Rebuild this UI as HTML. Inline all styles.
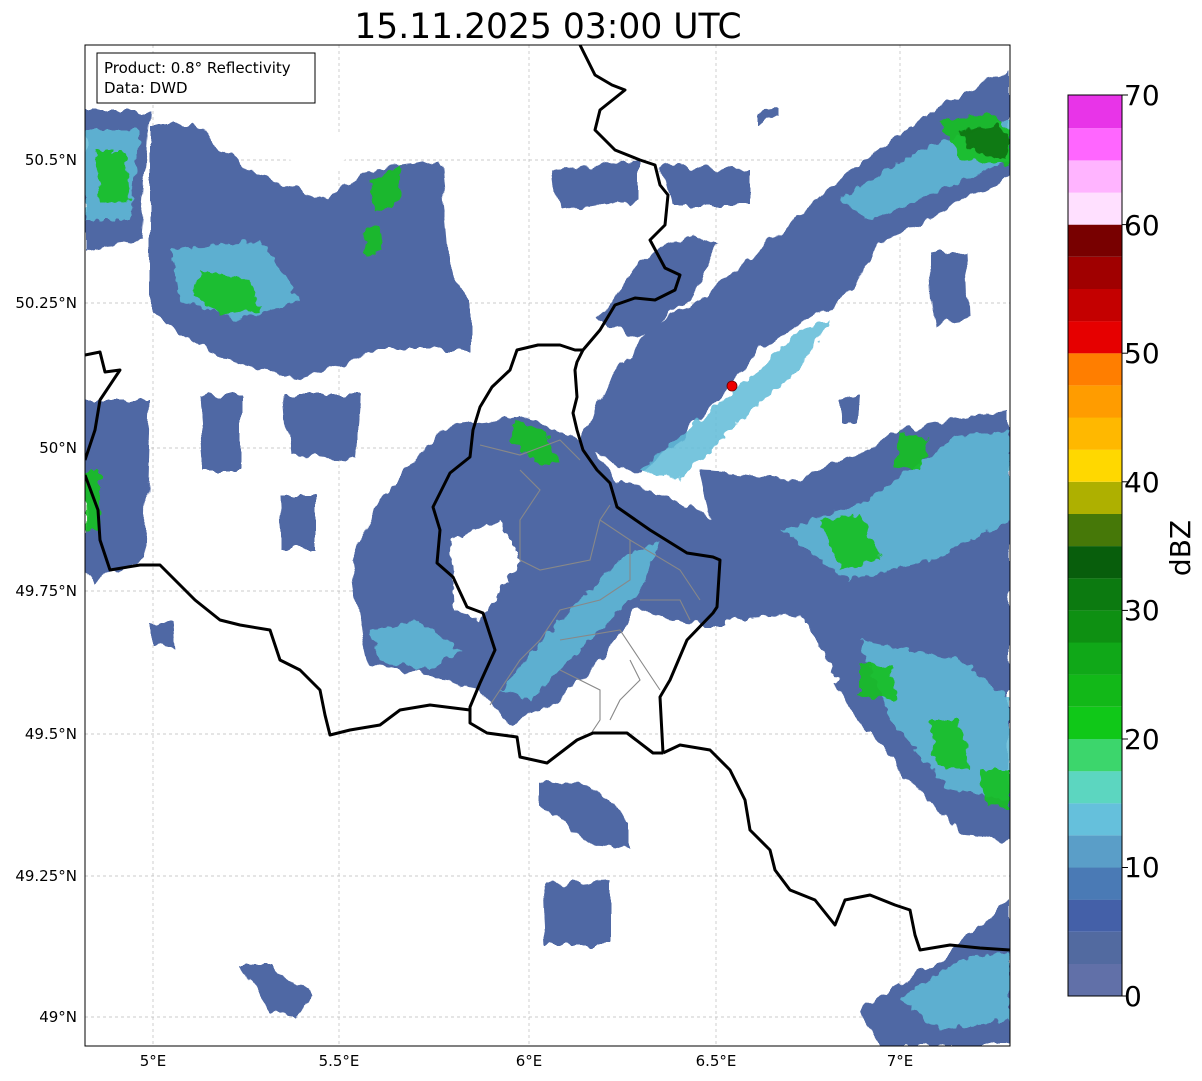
<!DOCTYPE html>
<html><head><meta charset="utf-8"><style>
html,body{margin:0;padding:0;background:#fff}
svg{display:block;font-family:"DejaVu Sans","Liberation Sans",sans-serif}
</style></head><body>
<svg width="1202" height="1081" viewBox="0 0 1202 1081" xmlns="http://www.w3.org/2000/svg">
<defs>
<filter id="r" x="-10%" y="-10%" width="120%" height="120%">
<feTurbulence type="fractalNoise" baseFrequency="0.08 0.03" numOctaves="2" seed="3"/>
<feDisplacementMap in="SourceGraphic" scale="14" xChannelSelector="R" yChannelSelector="G"/>
</filter>
<filter id="g" x="-20%" y="-20%" width="140%" height="140%">
<feTurbulence type="fractalNoise" baseFrequency="0.1" numOctaves="2" seed="7"/>
<feDisplacementMap in="SourceGraphic" scale="12" xChannelSelector="R" yChannelSelector="G"/>
</filter>
<clipPath id="c"><rect x="85" y="45" width="925" height="1001"/></clipPath>
</defs>
<text x="548" y="38" font-size="34.5" text-anchor="middle">15.11.2025 03:00 UTC</text>
<g clip-path="url(#c)">
<g stroke="#bbb" stroke-width="0.7" stroke-dasharray="3,3">
<line x1="153" y1="45" x2="153" y2="1046"/><line x1="339" y1="45" x2="339" y2="1046"/>
<line x1="529" y1="45" x2="529" y2="1046"/><line x1="716" y1="45" x2="716" y2="1046"/>
<line x1="900" y1="45" x2="900" y2="1046"/>
<line x1="85" y1="160" x2="1010" y2="160"/><line x1="85" y1="303" x2="1010" y2="303"/>
<line x1="85" y1="448" x2="1010" y2="448"/><line x1="85" y1="591" x2="1010" y2="591"/>
<line x1="85" y1="734" x2="1010" y2="734"/><line x1="85" y1="876" x2="1010" y2="876"/>
<line x1="85" y1="1017" x2="1010" y2="1017"/>
</g>
<g fill="#5068a4" filter="url(#r)">
<polygon points="150,125 195,125 250,170 320,200 370,170 440,160 450,260 470,300 470,350 380,350 300,380 210,355 150,310"/>
<polygon points="85,110 150,110 140,240 85,250"/>
<polygon points="85,400 150,400 145,560 95,580 85,570"/>
<polygon points="575,445 610,380 650,330 700,300 760,250 850,170 950,100 1010,70 1010,175 950,205 880,245 840,300 760,350 700,420 640,475"/>
<polygon points="600,320 640,260 690,235 720,245 690,300 640,340"/>
<polygon points="350,560 380,500 440,430 520,415 580,440 620,480 700,510 760,560 830,600 830,625 700,625 640,610 600,660 560,700 510,725 480,690 430,675 370,665 360,620"/>
<polygon points="700,470 800,480 900,430 1010,410 1010,840 960,835 900,770 850,710 820,650 800,610 730,600"/>
<polygon points="860,1010 940,960 1010,900 1010,1046 880,1046"/>
<polygon points="200,395 240,395 240,470 205,470"/>
<polygon points="285,395 360,395 355,460 290,455"/>
<polygon points="280,495 318,495 318,548 282,548"/>
<polygon points="540,780 590,785 630,820 630,850 590,845 540,805"/>
<polygon points="545,885 610,880 610,945 548,945"/>
<polygon points="240,965 270,965 312,995 300,1015 270,1012"/>
<polygon points="150,623 172,623 175,646 155,646"/>
<polygon points="555,170 640,160 640,200 560,210"/>
<polygon points="660,165 750,170 750,205 670,205"/>
<polygon points="930,255 965,250 968,320 935,325"/>
<polygon points="840,400 860,395 858,425 842,425"/>
<polygon points="760,112 780,110 780,120 760,122"/>
</g>
<g fill="#fff" filter="url(#g)">
<polygon points="450,540 500,520 520,560 480,620 455,610"/>
<polygon points="300,130 360,140 330,180 290,160"/>
<polygon points="725,620 800,615 840,680 780,700 720,680"/>
</g>
<g fill="#60bcd8" opacity="0.85" filter="url(#g)">
<polygon points="640,470 700,420 760,370 800,330 830,320 800,370 740,420 680,480"/>
<polygon points="500,690 560,620 620,560 660,540 640,590 580,650 530,700"/>
<polygon points="170,250 260,240 300,300 240,320 180,300"/>
<polygon points="85,130 140,130 130,220 85,220"/>
<polygon points="860,640 960,660 1010,700 1010,800 950,790 890,720"/>
<polygon points="780,530 870,500 950,440 1010,430 1010,520 930,560 850,580"/>
<polygon points="840,200 920,150 1010,120 1010,160 940,190 870,220"/>
<polygon points="900,1000 960,960 1010,950 1010,1020 940,1030"/>
<polygon points="370,630 420,620 460,650 430,670 380,660"/>
</g>
<g fill="#18c020" opacity="0.9" filter="url(#g)">
<polygon points="200,270 250,280 260,310 220,315 195,295"/>
<polygon points="95,150 125,150 130,200 100,205"/>
<polygon points="940,120 990,115 1010,130 1010,165 960,160"/>
<polygon points="820,520 860,515 880,560 840,570"/>
<polygon points="900,430 930,440 920,470 895,465"/>
<polygon points="860,665 890,665 895,700 860,695"/>
<polygon points="930,720 960,720 970,770 935,765"/>
<polygon points="980,770 1010,770 1010,810 985,805"/>
<polygon points="515,420 545,430 560,465 540,465 510,440"/>
<polygon points="370,180 400,165 400,200 375,215"/>
<polygon points="365,230 380,225 382,250 366,255"/>
<polygon points="85,470 100,470 100,530 85,530"/>
</g>
<g fill="#0a6a10" opacity="0.8" filter="url(#g)">
<polygon points="960,130 1000,125 1010,140 1005,160 970,150"/>
</g>
<g fill="none" stroke="#888" stroke-width="1.1">
<polyline points="480,445 520,455 560,440 580,460"/>
<polyline points="520,470 540,490 520,520 520,560 540,570 590,560 600,520 610,505"/>
<polyline points="600,520 630,540 630,580 600,600 560,610 540,640 520,660 500,690 490,705"/>
<polyline points="630,540 680,570 700,600"/>
<polyline points="640,600 680,600 690,620"/>
<polyline points="560,640 620,630 640,660 660,690"/>
<polyline points="560,670 600,690 600,720 590,735"/>
<polyline points="630,660 640,680 620,700 610,720"/>
</g>
<g fill="none" stroke="#000" stroke-width="3" stroke-linejoin="round">
<polyline points="580,45 595,75 612,85 625,90 600,110 595,130 615,150 640,160 655,165 660,185 668,195 665,225 650,240 665,268 680,275 675,290 655,300 635,298 615,305 600,330 583,350 577,362 575,370 577,397 573,413 577,430 583,450 597,470 610,483 617,507 650,530 687,553 713,557 720,560 717,607 713,613 687,640 670,680 660,697 663,753"/>
<polyline points="583,350 575,350 560,345 538,345 517,350 510,370 492,387 480,407 473,430 470,457 450,473 433,507 440,530 437,563 453,577 467,607 483,613 495,650 480,683 470,707 470,723 487,733 517,737 520,757 547,763 577,740 593,733 627,733 653,753 663,753"/>
<polyline points="663,753 680,745 710,750 730,770 745,800 750,830 770,850 775,870 790,890 815,900 835,925 845,900 870,895 895,905 910,910 915,935 920,950 950,945 980,948 1010,950"/>
<polyline points="470,710 430,705 400,710 380,725 350,730 330,735 325,715 320,690 300,670 280,660 270,630 240,625 220,620 195,600 160,565 140,565 110,570 100,540 98,510 85,475"/>
<polyline points="85,355 100,352 105,372 120,370 100,400 95,430 85,460"/>
</g>
<circle cx="732" cy="386" r="5" fill="#e00" stroke="#600" stroke-width="0.8"/>
</g>
<rect x="85" y="45" width="925" height="1001" fill="none" stroke="#000" stroke-width="1"/>
<rect x="97" y="53" width="218" height="50" fill="#fff" stroke="#000" stroke-width="1"/>
<text x="104" y="73" font-size="15">Product: 0.8° Reflectivity</text>
<text x="104" y="93" font-size="15">Data: DWD</text>
<g font-size="15" text-anchor="end">
<text x="77" y="165">50.5°N</text><text x="77" y="308">50.25°N</text>
<text x="77" y="453">50°N</text><text x="77" y="596">49.75°N</text>
<text x="77" y="739">49.5°N</text><text x="77" y="881">49.25°N</text>
<text x="77" y="1022">49°N</text>
</g>
<g font-size="15" text-anchor="middle">
<text x="153" y="1066">5°E</text><text x="339" y="1066">5.5°E</text>
<text x="529" y="1066">6°E</text><text x="716" y="1066">6.5°E</text>
<text x="900" y="1066">7°E</text>
</g>
<g>
<rect x="1068" y="963.9" width="54" height="32.2" fill="#6170a8"/>
<rect x="1068" y="931.8" width="54" height="32.2" fill="#526aa0"/>
<rect x="1068" y="899.6" width="54" height="32.2" fill="#4460a8"/>
<rect x="1068" y="867.5" width="54" height="32.2" fill="#4a7ab5"/>
<rect x="1068" y="835.4" width="54" height="32.2" fill="#5a9ec8"/>
<rect x="1068" y="803.2" width="54" height="32.2" fill="#65c0dc"/>
<rect x="1068" y="771.1" width="54" height="32.2" fill="#5cd6c0"/>
<rect x="1068" y="739" width="54" height="32.2" fill="#3cd66c"/>
<rect x="1068" y="706.8" width="54" height="32.2" fill="#10c818"/>
<rect x="1068" y="674.6" width="54" height="32.2" fill="#12b818"/>
<rect x="1068" y="642.5" width="54" height="32.2" fill="#10a818"/>
<rect x="1068" y="610.4" width="54" height="32.2" fill="#0e9012"/>
<rect x="1068" y="578.2" width="54" height="32.2" fill="#0c7a10"/>
<rect x="1068" y="546.1" width="54" height="32.2" fill="#085e0c"/>
<rect x="1068" y="514" width="54" height="32.2" fill="#467808"/>
<rect x="1068" y="481.8" width="54" height="32.2" fill="#aeb000"/>
<rect x="1068" y="449.6" width="54" height="32.2" fill="#ffd800"/>
<rect x="1068" y="417.5" width="54" height="32.2" fill="#ffb800"/>
<rect x="1068" y="385.4" width="54" height="32.2" fill="#ff9c00"/>
<rect x="1068" y="353.2" width="54" height="32.2" fill="#ff7e00"/>
<rect x="1068" y="321.1" width="54" height="32.2" fill="#e60000"/>
<rect x="1068" y="289" width="54" height="32.2" fill="#c40000"/>
<rect x="1068" y="256.8" width="54" height="32.2" fill="#a00000"/>
<rect x="1068" y="224.6" width="54" height="32.2" fill="#780000"/>
<rect x="1068" y="192.5" width="54" height="32.2" fill="#ffe0ff"/>
<rect x="1068" y="160.4" width="54" height="32.2" fill="#ffb4ff"/>
<rect x="1068" y="128.2" width="54" height="32.2" fill="#ff66ff"/>
<rect x="1068" y="95" width="54" height="33.2" fill="#e834e8"/>
<rect x="1068" y="95" width="54" height="901" fill="none" stroke="#000" stroke-width="1"/>
<g stroke="#000" stroke-width="1">
<line x1="1122" y1="996" x2="1128" y2="996"/><line x1="1122" y1="867.5" x2="1128" y2="867.5"/>
<line x1="1122" y1="739" x2="1128" y2="739"/><line x1="1122" y1="610.4" x2="1128" y2="610.4"/>
<line x1="1122" y1="481.8" x2="1128" y2="481.8"/><line x1="1122" y1="353.2" x2="1128" y2="353.2"/>
<line x1="1122" y1="224.6" x2="1128" y2="224.6"/><line x1="1122" y1="95" x2="1128" y2="95"/>
</g>
<g font-size="28">
<text x="1124" y="1006">0</text><text x="1124" y="877">10</text>
<text x="1124" y="749">20</text><text x="1124" y="620">30</text>
<text x="1124" y="492">40</text><text x="1124" y="363">50</text>
<text x="1124" y="235">60</text><text x="1124" y="105">70</text>
</g>
<text transform="translate(1190,548) rotate(-90)" font-size="28" text-anchor="middle">dBZ</text>
</g>
</svg>
</body></html>
